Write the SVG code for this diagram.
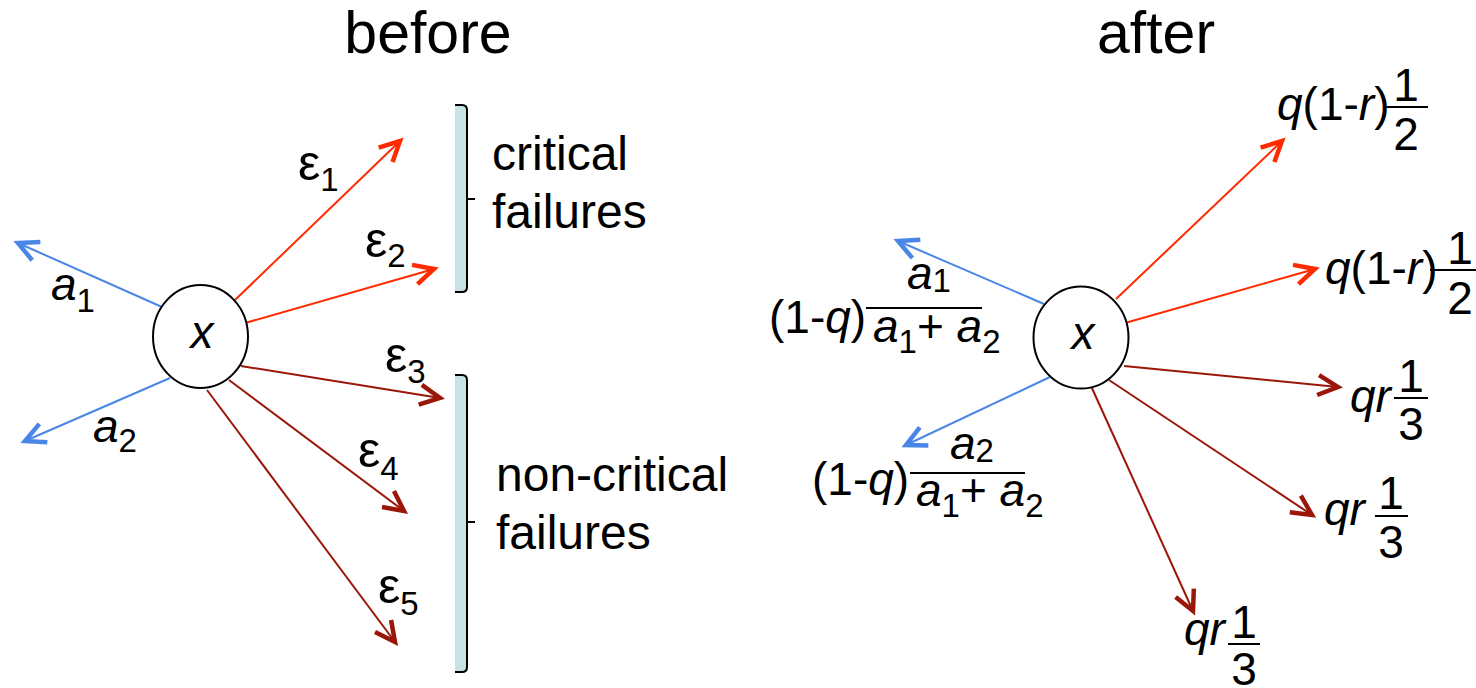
<svg xmlns="http://www.w3.org/2000/svg" width="1476" height="688" viewBox="0 0 1476 688">
  <defs>
    <style>
      text { font-family: "Liberation Sans", Arial, sans-serif; fill: #000; }
      .title { font-size: 59px; text-anchor: middle; }
      .lbl { font-size: 48px; }
      .m { font-size: 46px; }
      .eps { font-size: 50px; }
      .it { font-style: italic; }
      .sub { font-size: 33px; font-style: normal; }
      .mid { text-anchor: middle; }
      .node { fill: #fff; stroke: #000; stroke-width: 2; }
      .edge { fill: none; stroke-width: 2; }
      .blue { stroke: #4a86e8; }
      .red { stroke: #ff2a00; }
      .dark { stroke: #9a1608; }
      .bar { stroke: #000; stroke-width: 2; }
      .brk-fill { fill: #c6e4e6; }
      .brk { fill: none; stroke: #000; stroke-width: 2; }
    </style>
    <marker id="ah-blue" markerUnits="userSpaceOnUse" viewBox="-26 -16 32 32" refX="0" refY="0" markerWidth="32" markerHeight="32" orient="auto">
      <path d="M-20,-10 L0,0 L-20,10" fill="none" stroke="#4a86e8" stroke-width="4.5"/>
    </marker>
    <marker id="ah-red" markerUnits="userSpaceOnUse" viewBox="-26 -16 32 32" refX="0" refY="0" markerWidth="32" markerHeight="32" orient="auto">
      <path d="M-20,-10 L0,0 L-20,10" fill="none" stroke="#ff2a00" stroke-width="4.5"/>
    </marker>
    <marker id="ah-dark" markerUnits="userSpaceOnUse" viewBox="-26 -16 32 32" refX="0" refY="0" markerWidth="32" markerHeight="32" orient="auto">
      <path d="M-20,-10 L0,0 L-20,10" fill="none" stroke="#9a1608" stroke-width="4.5"/>
    </marker>
  </defs>

  <rect width="1476" height="688" fill="#fff"/>

  <!-- titles -->
  <text class="title" x="428" y="53">before</text>
  <text class="title" x="1156" y="53">after</text>

  <!-- connectors -->
  <g id="connectors">
    <path class="edge blue" d="M162,307 L18,243" marker-end="url(#ah-blue)"/>
    <path class="edge blue" d="M170,378 L25,441" marker-end="url(#ah-blue)"/>
    <path class="edge red" d="M235,300 L400,141" marker-end="url(#ah-red)"/>
    <path class="edge red" d="M245,323 L434,269" marker-end="url(#ah-red)"/>
    <path class="edge dark" d="M241,366 L440,398" marker-end="url(#ah-dark)"/>
    <path class="edge dark" d="M229,380 L404,511" marker-end="url(#ah-dark)"/>
    <path class="edge dark" d="M207,390 L395,642" marker-end="url(#ah-dark)"/>

    <path class="edge blue" d="M1044,304 L898,241" marker-end="url(#ah-blue)"/>
    <path class="edge blue" d="M1050,377 L906,445" marker-end="url(#ah-blue)"/>
    <path class="edge red" d="M1116,299 L1282,141" marker-end="url(#ah-red)"/>
    <path class="edge red" d="M1125,323 L1315,269" marker-end="url(#ah-red)"/>
    <path class="edge dark" d="M1124,366 L1338,387" marker-end="url(#ah-dark)"/>
    <path class="edge dark" d="M1109,380 L1312,515" marker-end="url(#ah-dark)"/>
    <path class="edge dark" d="M1091,386 L1193,611" marker-end="url(#ah-dark)"/>
  </g>

  <!-- left state -->
  <g id="node-x-before">
    <ellipse class="node" cx="200.5" cy="336.5" rx="47.5" ry="51.5"/>
    <text class="m it mid" x="202" y="348">x</text>
  </g>

  <!-- right state -->
  <g id="node-x-after">
    <ellipse class="node" cx="1081" cy="337.5" rx="47.5" ry="51"/>
    <text class="m it mid" x="1083" y="349">x</text>
  </g>

  <!-- edge labels, before -->
  <g id="labels-before">
    <text class="eps" x="298" y="180">ε<tspan class="sub" dy="11">1</tspan></text>
    <text class="eps" x="365" y="257">ε<tspan class="sub" dy="10">2</tspan></text>
    <text class="eps" x="385" y="372">ε<tspan class="sub" dy="11">3</tspan></text>
    <text class="eps" x="358" y="467">ε<tspan class="sub" dy="13">4</tspan></text>
    <text class="eps" x="378" y="603">ε<tspan class="sub" dy="12">5</tspan></text>
    <text class="m it" x="51" y="300">a<tspan class="sub" dy="12">1</tspan></text>
    <text class="m it" x="93" y="442">a<tspan class="sub" dy="10">2</tspan></text>
  </g>

  <!-- groups of failures -->
  <g id="bracket-critical">
    <rect class="brk-fill" x="455" y="106" width="12" height="186"/>
    <path class="brk" d="M455,105 H462 Q467,105 467,110 V287 Q467,292 462,292 H455 M467,199 H475"/>
    <text class="lbl" x="492" y="170">critical</text>
    <text class="lbl" x="492" y="228">failures</text>
  </g>
  <g id="bracket-noncritical">
    <rect class="brk-fill" x="455" y="376" width="12" height="296"/>
    <path class="brk" d="M455,375 H462 Q467,375 467,380 V667 Q467,672 462,672 H455 M467,522 H475"/>
    <text class="lbl" x="496" y="491">non-critical</text>
    <text class="lbl" x="496" y="549">failures</text>
  </g>

  <!-- edge labels, after -->
  <g id="label-a1-after">
    <text class="m" x="769" y="333">(1-<tspan class="it">q</tspan>)</text>
    <text class="m it" x="907" y="289">a<tspan class="sub" dy="3">1</tspan></text>
    <line class="bar" x1="866" y1="308" x2="982" y2="308"/>
    <text class="m it" x="873" y="342">a<tspan class="sub" dy="11">1</tspan><tspan font-style="normal" dy="-11">+ </tspan>a<tspan class="sub" dy="11">2</tspan></text>
  </g>
  <g id="label-a2-after">
    <text class="m" x="812" y="495">(1-<tspan class="it">q</tspan>)</text>
    <text class="m it" x="950" y="459">a<tspan class="sub" dy="3">2</tspan></text>
    <line class="bar" x1="910" y1="473" x2="1025" y2="473"/>
    <text class="m it" x="916" y="506">a<tspan class="sub" dy="11">1</tspan><tspan font-style="normal" dy="-11">+ </tspan>a<tspan class="sub" dy="11">2</tspan></text>
  </g>
  <g id="label-e1-after">
    <text class="m" x="1277" y="120"><tspan class="it">q</tspan>(1-<tspan class="it">r</tspan>)</text>
    <line class="bar" x1="1383" y1="107" x2="1428" y2="107"/>
    <text class="m mid" x="1406" y="101">1</text>
    <text class="m mid" x="1406" y="150">2</text>
  </g>
  <g id="label-e2-after">
    <text class="m" x="1325" y="284"><tspan class="it">q</tspan>(1-<tspan class="it">r</tspan>)</text>
    <line class="bar" x1="1430" y1="270" x2="1476" y2="270"/>
    <text class="m mid" x="1460" y="264">1</text>
    <text class="m mid" x="1460" y="314">2</text>
  </g>
  <g id="label-e3-after">
    <text class="m it" x="1350" y="412">qr</text>
    <line class="bar" x1="1394" y1="398" x2="1428" y2="398"/>
    <text class="m mid" x="1411" y="392">1</text>
    <text class="m mid" x="1411" y="440">3</text>
  </g>
  <g id="label-e4-after">
    <text class="m it" x="1324" y="525">qr</text>
    <line class="bar" x1="1375" y1="516" x2="1408" y2="516"/>
    <text class="m mid" x="1391" y="509">1</text>
    <text class="m mid" x="1391" y="558">3</text>
  </g>
  <g id="label-e5-after">
    <text class="m it" x="1184" y="645">qr</text>
    <line class="bar" x1="1228" y1="644" x2="1260" y2="644"/>
    <text class="m mid" x="1244" y="638">1</text>
    <text class="m mid" x="1244" y="685">3</text>
  </g>
</svg>
